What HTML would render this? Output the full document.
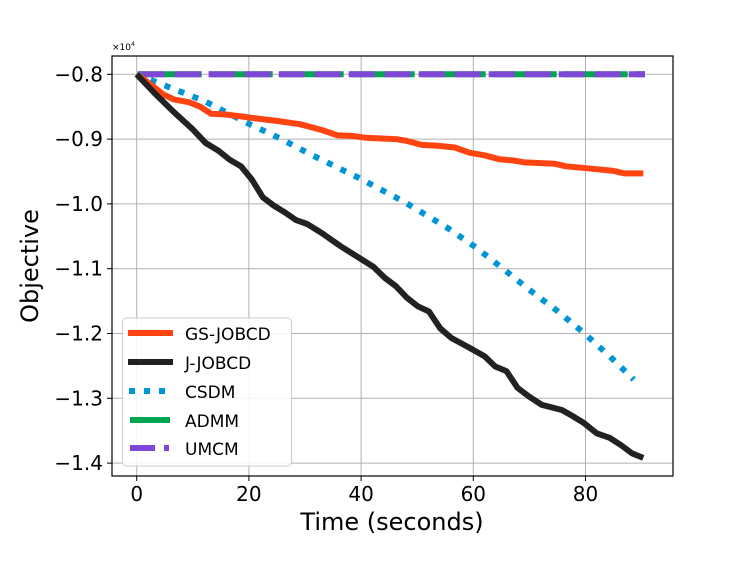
<!DOCTYPE html>
<html><head><meta charset="utf-8"><style>
body{margin:0;background:#fff}
svg{display:block;font-family:"DejaVu Sans","Liberation Sans",sans-serif}
</style></head><body>
<svg id="chart" width="747" height="561" viewBox="0 0 747 561"></svg>
<script>
const xTicks=[0,20,40,60,80];
const yTicks=[-0.8,-0.9,-1.0,-1.1,-1.2,-1.3,-1.4];
const yTickLabels=["\u22120.8","\u22120.9","\u22121.0","\u22121.1","\u22121.2","\u22121.3","\u22121.4"];
const gsX=[0,2.1,4.7,6.7,9.3,11.3,13.3,15.9,18.6,21.2,25.1,29.1,33,35.7,38.3,40.9,46.2,48.2,50.8,53.4,56.7,59.3,62,64.6,67.2,69.2,74.5,76.5,80.4,85,87,90.3];
const gsY=[-0.8,-0.813,-0.831,-0.839,-0.843,-0.85,-0.861,-0.862,-0.865,-0.868,-0.872,-0.877,-0.886,-0.894,-0.895,-0.898,-0.9,-0.903,-0.909,-0.91,-0.913,-0.921,-0.925,-0.931,-0.933,-0.936,-0.938,-0.942,-0.945,-0.949,-0.953,-0.953];
const jX=[0,3.4,6.7,10,12.3,14.6,16.6,18.6,20.5,22.5,24.5,26.4,28.4,30.4,33,36.3,39.6,42.2,44.2,46.2,48.2,50.1,52.1,54.1,56.1,59.3,62,63.9,65.9,67.9,69.9,72.2,75.8,77.8,79.7,82,84.3,86.3,88.3,90.3];
const jY=[-0.8,-0.831,-0.859,-0.885,-0.906,-0.918,-0.932,-0.942,-0.962,-0.99,-1.003,-1.013,-1.025,-1.031,-1.045,-1.065,-1.083,-1.097,-1.114,-1.127,-1.145,-1.158,-1.166,-1.192,-1.207,-1.222,-1.235,-1.251,-1.258,-1.284,-1.297,-1.31,-1.318,-1.328,-1.338,-1.354,-1.361,-1.372,-1.385,-1.392];
const csX=[0,6.1,12,19.9,25.8,31.1,39.6,47.5,55.4,60.6,65.3,69.9,75.1,79.7,84.3,88.6];
const csY=[-0.8,-0.821,-0.841,-0.876,-0.9,-0.924,-0.96,-0.996,-1.037,-1.068,-1.1,-1.132,-1.166,-1.199,-1.235,-1.271];
const admmX=[0,90.6];
const admmY=[-0.8,-0.8];
const umcmX=[0,90.6];
const umcmY=[-0.8,-0.8];

const NS="http://www.w3.org/2000/svg";
const svg=document.getElementById('chart');
const L=112,R=673,T=56,B=476;
function sx(v){return 136.7+v*5.61;}
function sy(v){return 74.3+(-0.8-v)*648;}
function mk(tag,attrs,parent){const e=document.createElementNS(NS,tag);for(const k in attrs)e.setAttribute(k,attrs[k]);(parent||svg).appendChild(e);return e;}

const grid=mk('g',{});


xTicks.forEach((t,i)=>{
  const g=mk('line',{x1:sx(t),x2:sx(t),y1:T,y2:B,stroke:'#b0b0b0','stroke-width':1},grid);
  
  
  const tk=mk('line',{x1:sx(t),x2:sx(t),y1:B,y2:B+5,stroke:'#000','stroke-width':1});
  
  
  const tx=mk('text',{x:sx(t),y:B+25,'font-size':20,'text-anchor':'middle'});
  tx.textContent=t;
  
  
});
yTicks.forEach((t,i)=>{
  const g=mk('line',{x1:L,x2:R,y1:sy(t),y2:sy(t),stroke:'#b0b0b0','stroke-width':1},grid);
  
  
  const tk=mk('line',{x1:L-5,x2:L,y1:sy(t),y2:sy(t),stroke:'#000','stroke-width':1});
  
  
  const tx=mk('text',{x:L-9,y:sy(t)+7,'font-size':20,'text-anchor':'end'});
  tx.textContent=yTickLabels[i];
  
  
});
function line(xs,ys,attrs,name){
  const d=xs.map((x,i)=>(i?'L':'M')+sx(x).toFixed(1)+','+sy(ys[i]).toFixed(1)).join('');
  const p=mk('path',Object.assign({d:d,fill:'none','stroke-linejoin':'round'},attrs));
  
  
}
line(admmX,admmY,{stroke:'#00a650','stroke-width':6,'stroke-dasharray':'64 7','stroke-dashoffset':'-1'},'admm-line');
line(umcmX,umcmY,{stroke:'#7f47d6','stroke-width':6,'stroke-dasharray':'26 10 26 8','stroke-dashoffset':'-2'},'umcm-line');
line(csX,csY,{stroke:'#0096d6','stroke-width':6,'stroke-dasharray':'6 9'},'csdm-line');
line(gsX,gsY,{stroke:'#ff4311','stroke-width':6},'gs-jobcd-line');
line(jX,jY,{stroke:'#222','stroke-width':6},'j-jobcd-line');
</script>
<svg width="747" height="561" style="position:absolute;left:0;top:0" font-family="DejaVu Sans, Liberation Sans, sans-serif">
<rect x="112" y="56" width="561" height="420" fill="none" stroke="#000" stroke-width="1.2"/>
<text x="112" y="50" font-size="9">×10<tspan font-size="6" dy="-4">4</tspan></text>
<text x="392" y="530" font-size="24" text-anchor="middle">Time (seconds)</text>
<text transform="translate(38,266) rotate(-90)" font-size="24" text-anchor="middle">Objective</text>
<g>
<rect x="122.5" y="318" width="169" height="148" rx="4" fill="#fff" fill-opacity="0.85" stroke="#ccc"/>
<g><line x1="128" x2="173" y1="333" y2="333" stroke="#ff4311" stroke-width="6"/><text x="185" y="340" font-size="17">GS-JOBCD</text></g>
<g><line x1="128" x2="173" y1="362" y2="362" stroke="#222" stroke-width="6"/><text x="185" y="369" font-size="17">J-JOBCD</text></g>
<g><line x1="129" x2="173" y1="391" y2="391" stroke="#0096d6" stroke-width="6" stroke-dasharray="6 9"/><text x="185" y="398" font-size="17">CSDM</text></g>
<g><line x1="130" x2="170" y1="420" y2="420" stroke="#00a650" stroke-width="6"/><text x="185" y="427" font-size="17">ADMM</text></g>
<g><line x1="130" x2="155" y1="448" y2="448" stroke="#7f47d6" stroke-width="6"/><line x1="164" x2="169" y1="448" y2="448" stroke="#7f47d6" stroke-width="6"/><text x="185" y="455" font-size="17">UMCM</text></g>
</g>
</svg>
</body></html>
